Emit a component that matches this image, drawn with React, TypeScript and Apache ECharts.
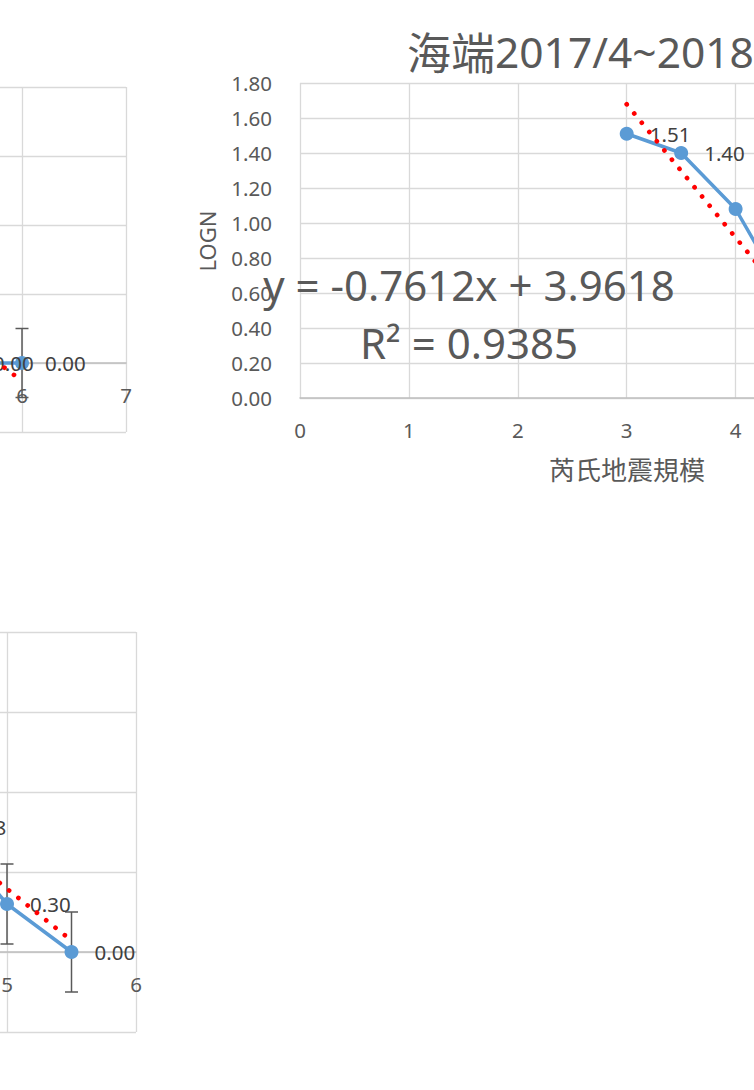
import React, { useEffect, useRef } from "react";
import * as echarts from "echarts";

const W = 754;
const H = 1090;

// 海端 2017/4~2018 panel (right)
const haiduanMag = [3, 3.5, 4, 4.5];
const haiduanLogN = [1.51, 1.4, 1.08, 0.54];
const haiduanTrend = [-0.7612, 3.9618]; // slope, intercept
const haiduanTrendRange = [3, 4.5];
const haiduanR2 = 0.9385;

// upper-left panel
const upperMag = [5.5, 6];
const upperLogN = [0.0, 0.0];
const upperTrend = [-0.57, 3.29];
const upperTrendRange = [3, 6];

// lower-left panel
const lowerMag = [4.5, 5, 5.5];
const lowerLogN = [0.78, 0.3, 0.0];
const lowerTrend = [-0.647, 3.63];
const lowerTrendRange = [3, 5.5];

// fixed error amount shown on the left panels
const errorAmount = 0.25;

const title = "海端";
const titleTail = "2017/4~2018/3";
const xTitle = "芮氏地震規模";
const yTitle = "LOGN";

const LATIN = "'Noto Sans', 'Open Sans', sans-serif";
const CJK = "'Noto Sans CJK TC', 'Noto Sans CJK SC', sans-serif";
const TEXT = "#595959";
const GRID = "#D9D9D9";
const BLUE = "#5B9BD5";

const pairs = (xs: number[], ys: number[]) => xs.map((x, i) => [x, ys[i]]);

const axisLabel = { color: TEXT, fontSize: 20.5, fontFamily: LATIN };
const splitLine = { show: true, lineStyle: { color: GRID, width: 1.3 } };

// the magnitude axis sits on LOGN = 0; `lift` is the pixel distance from the plot bottom to that zero
function xAxisFor(gridIndex: number, max: number, lift: number) {
  return {
    type: "value",
    gridIndex,
    min: 0,
    max,
    interval: 1,
    offset: -lift,
    axisLine: { show: true, onZero: false, lineStyle: { color: "#BFBFBF", width: 1.5 } },
    axisTick: { show: false },
    axisLabel: { ...axisLabel, margin: 21 },
    splitLine,
  };
}

function yAxisFor(gridIndex: number, min: number, max: number, interval: number) {
  return {
    type: "value",
    gridIndex,
    min,
    max,
    interval,
    axisLine: { show: false },
    axisTick: { show: false },
    axisLabel: { ...axisLabel, margin: 28, formatter: (v: number) => v.toFixed(2) },
    splitLine,
  };
}

function dataSeries(idx: number, xs: number[], ys: number[]) {
  return {
    type: "line",
    xAxisIndex: idx,
    yAxisIndex: idx,
    data: pairs(xs, ys),
    symbol: "circle",
    symbolSize: 14,
    lineStyle: { color: BLUE, width: 3.5 },
    itemStyle: { color: BLUE },
    label: {
      show: true,
      position: "right",
      distance: 16,
      color: "#404040",
      fontSize: 20.5,
      fontFamily: LATIN,
      formatter: (p: any) => (p.value[1] as number).toFixed(2),
    },
    z: 3,
  };
}

function trendSeries(idx: number, coef: number[], range: number[]) {
  const [a, b] = coef;
  return {
    type: "line",
    xAxisIndex: idx,
    yAxisIndex: idx,
    data: range.map((x) => [x, a * x + b]),
    symbol: "none",
    silent: true,
    lineStyle: { color: "#FF0000", width: 4.7, type: [0.01, 11.9], cap: "round" },
    z: 4,
  };
}

function errorSeries(idx: number, xs: number[], ys: number[]) {
  return {
    type: "custom",
    xAxisIndex: idx,
    yAxisIndex: idx,
    silent: true,
    data: xs.map((x, i) => [x, ys[i] - errorAmount, ys[i] + errorAmount]),
    renderItem: (_params: any, api: any) => {
      const lo = api.coord([api.value(0), api.value(1)]);
      const hi = api.coord([api.value(0), api.value(2)]);
      const hw = 6.5;
      const style = { stroke: "#595959", lineWidth: 1.5 };
      return {
        type: "group",
        children: [
          { type: "line", shape: { x1: lo[0], y1: lo[1], x2: hi[0], y2: hi[1] }, style },
          { type: "line", shape: { x1: lo[0] - hw, y1: lo[1], x2: lo[0] + hw, y2: lo[1] }, style },
          { type: "line", shape: { x1: hi[0] - hw, y1: hi[1], x2: hi[0] + hw, y2: hi[1] }, style },
        ],
      };
    },
    z: 2,
  };
}

const equation = `y = ${haiduanTrend[0].toFixed(4)}x + ${haiduanTrend[1].toFixed(4)}`;
const rSquared = `R² = ${haiduanR2.toFixed(4)}`;

const option: any = {
  animation: false,
  backgroundColor: "#ffffff",
  textStyle: { fontFamily: LATIN },
  grid: [
    { left: -602, top: 87, width: 728, height: 345, outerBoundsMode: "none", containLabel: false },
    { left: 300, top: 83, width: 653.4, height: 315, outerBoundsMode: "none", containLabel: false },
    { left: -638, top: 632, width: 774, height: 400, outerBoundsMode: "none", containLabel: false },
  ],
  xAxis: [xAxisFor(0, 7, 69), xAxisFor(1, 6, 0), xAxisFor(2, 6, 80)],
  yAxis: [yAxisFor(0, -0.5, 2, 0.5), yAxisFor(1, 0, 1.8, 0.2), yAxisFor(2, -0.5, 2, 0.5)],
  series: [
    errorSeries(0, upperMag, upperLogN),
    dataSeries(0, upperMag, upperLogN),
    trendSeries(0, upperTrend, upperTrendRange),
    dataSeries(1, haiduanMag, haiduanLogN),
    trendSeries(1, haiduanTrend, haiduanTrendRange),
    errorSeries(2, lowerMag, lowerLogN),
    dataSeries(2, lowerMag, lowerLogN),
    trendSeries(2, lowerTrend, lowerTrendRange),
  ],
  graphic: [
    {
      type: "text",
      x: 407,
      y: 51,
      z: 10,
      style: {
        text: `{c|${title}}{n|${titleTail}}`,
        verticalAlign: "middle",
        rich: {
          c: { fontSize: 44, fontFamily: CJK, fill: TEXT, verticalAlign: "middle" },
          n: { fontSize: 42.5, fontFamily: LATIN, fill: TEXT, verticalAlign: "middle" },
        },
      },
    },
    {
      type: "text",
      x: 207,
      y: 241,
      rotation: Math.PI / 2,
      z: 10,
      style: { text: yTitle, fill: TEXT, fontSize: 22, fontFamily: LATIN, align: "center", verticalAlign: "middle" },
    },
    {
      type: "text",
      x: 627,
      y: 468,
      z: 10,
      style: { text: xTitle, fill: TEXT, fontSize: 26, fontFamily: CJK, align: "center", verticalAlign: "middle" },
    },
    {
      type: "text",
      x: 469,
      y: 284,
      z: 10,
      style: { text: equation, fill: TEXT, fontSize: 42, fontFamily: LATIN, align: "center", verticalAlign: "middle" },
    },
    {
      type: "text",
      x: 469,
      y: 342,
      z: 10,
      style: { text: rSquared, fill: TEXT, fontSize: 42, fontFamily: LATIN, align: "center", verticalAlign: "middle" },
    },
  ],
};

export default function App() {
  const ref = useRef<HTMLDivElement>(null);
  useEffect(() => {
    const chart = echarts.init(ref.current as HTMLDivElement, null, { renderer: "svg", width: W, height: H });
    chart.setOption(option);
    return () => chart.dispose();
  }, []);
  return (
    <div
      ref={ref}
      style={{ position: "fixed", left: 0, top: 0, width: W, height: H, overflow: "hidden", background: "#fff" }}
    />
  );
}
